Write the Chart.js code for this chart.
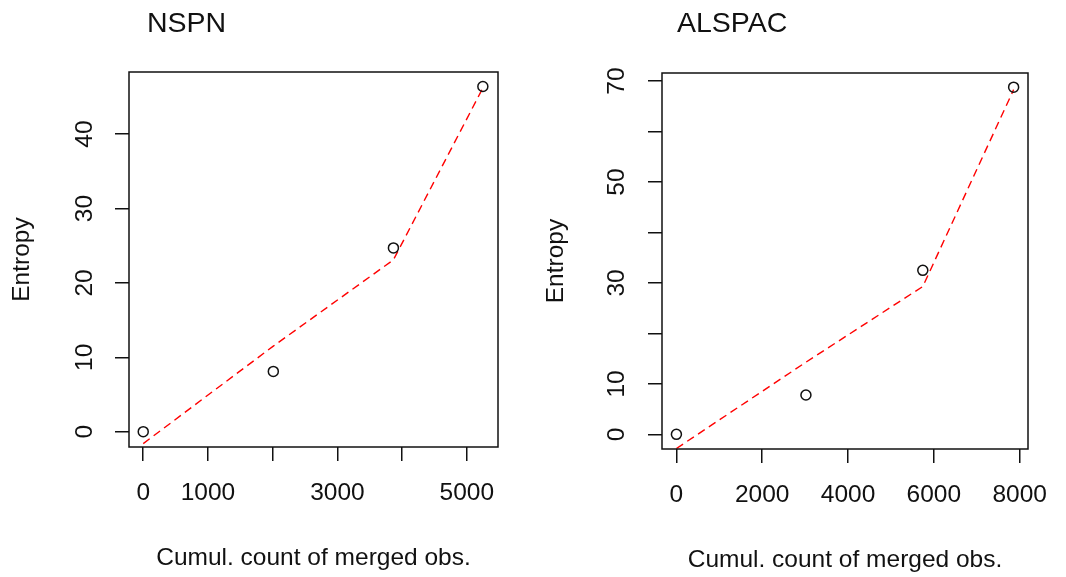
<!DOCTYPE html>
<html>
<head>
<meta charset="utf-8">
<title>Entropy vs cumulative count</title>
<script src="https://cdn.jsdelivr.net/npm/chart.js@4.4.1/dist/chart.umd.min.js"></script>
<style>
  html, body { margin: 0; padding: 0; background: #fff; }
  #wrap { position: relative; width: 1066px; height: 577px; }
  canvas { position: absolute; top: 0; }
  #nspn { left: 0; }
  #alspac { left: 533px; }
</style>
</head>
<body>
<div id="wrap">
  <canvas id="nspn" width="533" height="577"></canvas>
  <canvas id="alspac" width="533" height="577"></canvas>
</div>
<script>
// Data
const nspnCount = [0, 2010, 3866, 5248];
const nspnEntropy = [0, 8.1, 24.7, 46.4];
const nspnFit = [-1.6, 11.5, 23.1, 46.2];

const alspacCount = [0, 3019, 5743, 7860];
const alspacEntropy = [0, 7.8, 32.5, 68.8];
const alspacFit = [-2.8, 14.3, 29.3, 68.3];

// Tick positions and which of them get a label
const nspnXTicks = [0, 1000, 2000, 3000, 4000, 5000];
const nspnXLabels = [0, 1000, 3000, 5000];
const nspnYTicks = [0, 10, 20, 30, 40];
const nspnYLabels = [0, 10, 20, 30, 40];

const alspacXTicks = [0, 2000, 4000, 6000, 8000];
const alspacXLabels = [0, 2000, 4000, 6000, 8000];
const alspacYTicks = [0, 10, 20, 30, 40, 50, 60, 70];
const alspacYLabels = [0, 10, 30, 50, 70];

const FONT = "'Liberation Sans', Arial, sans-serif";
const INK = "#111";

// box around the plot region, like R's box()
const framePlugin = {
  id: "frame",
  afterDraw(chart) {
    const { ctx, chartArea: a } = chart;
    ctx.save();
    ctx.strokeStyle = INK;
    ctx.lineWidth = 1.5;
    ctx.strokeRect(a.left, a.top, a.right - a.left, a.bottom - a.top);
    ctx.restore();
  },
};

// panel title, placed a little right of the plot box
const panelTitle = {
  id: "panelTitle",
  afterDraw(chart, args, opts) {
    const { ctx, chartArea: a } = chart;
    ctx.save();
    ctx.fillStyle = INK;
    ctx.font = "28.5px " + FONT;
    ctx.textBaseline = "alphabetic";
    ctx.fillText(opts.text, a.left + opts.dx, opts.baseline);
    ctx.restore();
  },
};

function toPoints(xs, ys) {
  return xs.map((x, i) => ({ x: x, y: ys[i] }));
}

function makePanel(id, p) {
  const ctx = document.getElementById(id).getContext("2d");
  return new Chart(ctx, {
    type: "scatter",
    data: {
      datasets: [
        {
          label: "observed",
          data: toPoints(p.count, p.entropy),
          pointStyle: "circle",
          pointRadius: 5,
          pointBorderWidth: 1.5,
          borderColor: INK,
          backgroundColor: "rgba(0,0,0,0)",
          showLine: false,
        },
        {
          label: "fit",
          data: toPoints(p.count, p.fit),
          showLine: true,
          pointRadius: 0,
          borderColor: "#ff0000",
          borderWidth: 1.4,
          borderDash: [8, 5],
          fill: false,
        },
      ],
    },
    options: {
      responsive: false,
      animation: false,
      layout: {
        padding: { top: p.top, right: p.right, left: 0, bottom: 0 },
      },
      plugins: {
        legend: { display: false },
        tooltip: { enabled: false },
        panelTitle: { text: p.title, dx: p.titleDx, baseline: 32 },
      },
      scales: {
        x: {
          type: "linear",
          position: "bottom",
          min: p.xMin,
          max: p.xMax,
          afterBuildTicks: (s) => {
            s.ticks = p.xTicks.map((v) => ({ value: v }));
          },
          afterFit: (s) => {
            s.height = p.xAxisHeight;
          },
          grid: {
            drawOnChartArea: false,
            drawTicks: true,
            tickLength: 14,
            color: INK,
            lineWidth: 1.5,
          },
          border: { display: false },
          ticks: {
            autoSkip: false,
            maxRotation: 0,
            padding: p.xTickPad,
            color: INK,
            font: { family: FONT, size: 24.5 },
            callback: (v) => (p.xLabels.includes(v) ? String(v) : ""),
          },
          title: {
            display: true,
            text: "Cumul. count of merged obs.",
            color: INK,
            font: { family: FONT, size: 24.5 },
            padding: { top: 0, bottom: p.xTitlePad },
          },
        },
        y: {
          type: "linear",
          position: "left",
          min: p.yMin,
          max: p.yMax,
          afterBuildTicks: (s) => {
            s.ticks = p.yTicks.map((v) => ({ value: v }));
          },
          afterFit: (s) => {
            s.width = p.yAxisWidth;
          },
          grid: {
            drawOnChartArea: false,
            drawTicks: true,
            tickLength: 14,
            color: INK,
            lineWidth: 1.5,
          },
          border: { display: false },
          ticks: {
            autoSkip: false,
            minRotation: 90,
            maxRotation: 90,
            crossAlign: "center",
            padding: p.yTickPad,
            color: INK,
            font: { family: FONT, size: 24.5 },
            callback: (v) => (p.yLabels.includes(v) ? String(v) : ""),
          },
          title: {
            display: true,
            text: "Entropy",
            color: INK,
            font: { family: FONT, size: 24.5 },
            padding: { top: p.yTitlePad, bottom: 0 },
          },
        },
      },
    },
    plugins: [framePlugin, panelTitle],
  });
}

makePanel("nspn", {
  title: "NSPN",
  titleDx: 18,
  count: nspnCount,
  entropy: nspnEntropy,
  fit: nspnFit,
  xTicks: nspnXTicks,
  xLabels: nspnXLabels,
  yTicks: nspnYTicks,
  yLabels: nspnYLabels,
  xMin: -220,
  xMax: 5482,
  yMin: -2.06,
  yMax: 48.35,
  top: 72,
  right: 35,
  xAxisHeight: 130,
  yAxisWidth: 129,
  xTickPad: 18,
  xTitlePad: 4,
  yTickPad: 16,
  yTitlePad: 8,
});

makePanel("alspac", {
  title: "ALSPAC",
  titleDx: 15,
  count: alspacCount,
  entropy: alspacEntropy,
  fit: alspacFit,
  xTicks: alspacXTicks,
  xLabels: alspacXLabels,
  yTicks: alspacYTicks,
  yLabels: alspacYLabels,
  xMin: -336,
  xMax: 8195,
  yMin: -2.9,
  yMax: 71.6,
  top: 73,
  right: 38,
  xAxisHeight: 128,
  yAxisWidth: 129,
  xTickPad: 18,
  xTitlePad: 2,
  yTickPad: 17,
  yTitlePad: 9,
});
</script>
</body>
</html>
